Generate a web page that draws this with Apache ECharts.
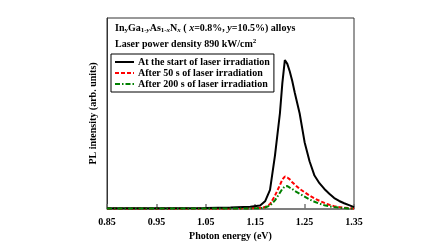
<!DOCTYPE html>
<html>
<head>
<meta charset="utf-8">
<script src="https://cdn.jsdelivr.net/npm/echarts@6/dist/echarts.min.js"></script>
<style>
html, body { margin: 0; padding: 0; background: #fff; }
#chart { width: 448px; height: 252px; }
</style>
</head>
<body>
<div id="chart"></div>
<script>
const energies = [0.85, 0.95, 1.05, 1.10, 1.14, 1.16, 1.17, 1.18, 1.19, 1.20, 1.205, 1.21, 1.215, 1.22, 1.225,
    1.23, 1.24, 1.25, 1.26, 1.27, 1.28, 1.29, 1.30, 1.31, 1.32, 1.33, 1.34, 1.35];

const startValues = [0.004, 0.004, 0.005, 0.008, 0.012, 0.018, 0.04, 0.10, 0.28, 0.50, 0.66, 0.78, 0.76, 0.72, 0.67,
    0.61, 0.50, 0.35, 0.25, 0.175, 0.135, 0.105, 0.08, 0.057, 0.042, 0.03, 0.02, 0.01];

const after50Values = [0.003, 0.003, 0.003, 0.003, 0.004, 0.006, 0.01, 0.025, 0.07, 0.125, 0.155, 0.17, 0.165, 0.155, 0.14,
    0.128, 0.105, 0.088, 0.07, 0.055, 0.043, 0.032, 0.022, 0.015, 0.01, 0.007, 0.005, 0.003];

const after200Values = [0.002, 0.002, 0.002, 0.002, 0.003, 0.004, 0.008, 0.018, 0.045, 0.085, 0.105, 0.118, 0.12, 0.112, 0.105,
    0.095, 0.08, 0.065, 0.05, 0.038, 0.028, 0.02, 0.014, 0.01, 0.007, 0.005, 0.003, 0.002];

const tickValues = [0.85, 0.95, 1.05, 1.15, 1.25, 1.35];

const seriesNames = [
    "At the start of laser irradiation",
    "After 50 s of laser irradiation",
    "After 200 s of laser irradiation"
];

const FONT = "Liberation Serif";

function pairs(values) {
    return energies.map((e, i) => [e, values[i]]);
}

const chart = echarts.init(document.getElementById("chart"));

const base = { fontFamily: FONT, fontWeight: "bold", fontSize: 10, color: "#000" };
const sub = { fontFamily: FONT, fontWeight: "bold", fontSize: 7, color: "#000", verticalAlign: "bottom", padding: [5, 0, 0, 0] };
const subIt = Object.assign({}, sub, { fontStyle: "italic" });
const it = Object.assign({}, base, { fontStyle: "italic" });
const sup = { fontFamily: FONT, fontWeight: "bold", fontSize: 7, color: "#000", padding: [0, 0, 6, 0] };

chart.setOption({
    animation: false,
    title: [
        {
            text: "{b|In}{s|y}{b|Ga}{s|1-}{si|y}{b|As}{s|1-}{si|x}{b|N}{si|x}{b| ( }{i|x}{b|=0.8%, }{i|y}{b|=10.5%) alloys}",
            left: 115,
            top: 22,
            padding: 0,
            textStyle: {
                fontFamily: FONT,
                fontSize: 10,
                rich: { b: base, s: sub, si: subIt, i: it }
            }
        },
        {
            text: "{b|Laser power density 890 kW/cm}{p|2}",
            left: 115,
            top: 38,
            padding: 0,
            textStyle: {
                fontFamily: FONT,
                fontSize: 10,
                rich: { b: base, p: sup }
            }
        }
    ],
    legend: {
        orient: "vertical",
        left: 111,
        top: 54,
        padding: [3, 4, 3, 3],
        itemGap: 1,
        itemWidth: 19,
        itemHeight: 10,
        borderColor: "#000",
        borderWidth: 1,
        itemStyle: { opacity: 0 },
        textStyle: { fontFamily: FONT, fontWeight: "bold", fontSize: 10, color: "#000", padding: [0, 0, 0, -1] },
        data: seriesNames
    },
    grid: {
        left: 107,
        right: 94,
        top: 18,
        bottom: 43,
        show: true,
        borderColor: "#333",
        borderWidth: 1
    },
    xAxis: {
        type: "value",
        min: 0.85,
        max: 1.35,
        name: "Photon energy (eV)",
        nameLocation: "middle",
        nameGap: 21,
        nameTextStyle: { fontFamily: FONT, fontWeight: "bold", fontSize: 10, color: "#000" },
        axisLine: { lineStyle: { color: "#777", width: 1.5 } },
        axisTick: { inside: true, length: 5, customValues: tickValues, lineStyle: { color: "#777", width: 1.5 } },
        axisLabel: {
            customValues: tickValues,
            fontFamily: FONT,
            fontWeight: "bold",
            fontSize: 10,
            color: "#000",
            margin: 8,
            formatter: v => v.toFixed(2)
        },
        splitLine: { show: false }
    },
    yAxis: {
        type: "value",
        min: 0,
        max: 1,
        name: "PL intensity (arb. units)",
        nameLocation: "middle",
        nameGap: 9,
        nameTextStyle: { fontFamily: FONT, fontWeight: "bold", fontSize: 10, color: "#000" },
        axisLine: { show: true, lineStyle: { color: "#333" } },
        axisTick: { show: false },
        axisLabel: { show: false },
        splitLine: { show: false }
    },
    series: [
        {
            name: seriesNames[0],
            type: "line",
            symbol: "none",
            data: pairs(startValues),
            lineStyle: { color: "#000", width: 2 },
            itemStyle: { color: "#000" },
            z: 3
        },
        {
            name: seriesNames[1],
            type: "line",
            symbol: "none",
            data: pairs(after50Values),
            lineStyle: { color: "#ff0000", width: 2, type: [4, 2] },
            itemStyle: { color: "#ff0000" },
            z: 2
        },
        {
            name: seriesNames[2],
            type: "line",
            symbol: "none",
            data: pairs(after200Values),
            lineStyle: { color: "#008000", width: 2, type: [5, 2, 1.5, 2] },
            itemStyle: { color: "#008000" },
            z: 4
        }
    ]
});
</script>
</body>
</html>
